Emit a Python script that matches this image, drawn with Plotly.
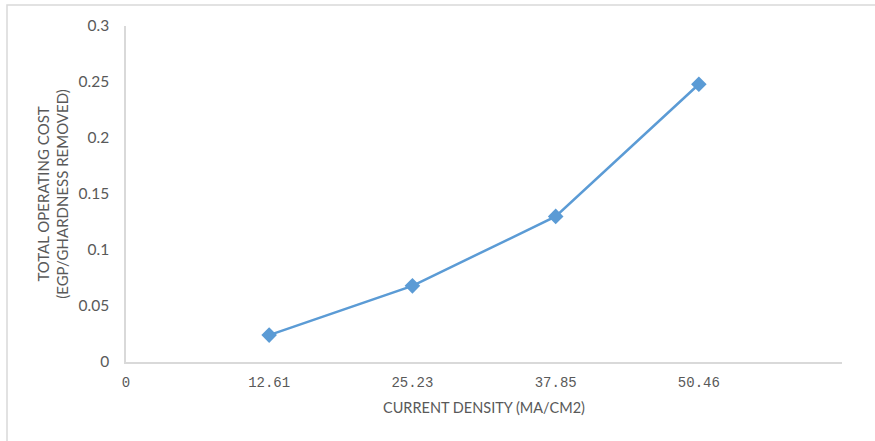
import plotly.graph_objects as go

# Operating cost versus applied current density
current_density = [12.61, 25.23, 37.85, 50.46]
operating_cost = [0.024, 0.068, 0.13, 0.248]

x_tick_values = [0, 12.61, 25.23, 37.85, 50.46]
x_tick_labels = ["0", "12.61", "25.23", "37.85", "50.46"]

W, H = 875, 441
L, R, T, B = 126, 33, 26, 79
pw, ph = W - L - R, H - T - B

line_color = "#5B9BD5"
text_color = "#595959"
axis_color = "#D9D9D9"

fig = go.Figure()
fig.add_trace(go.Scatter(
    x=current_density,
    y=operating_cost,
    mode="lines+markers",
    line=dict(color=line_color, width=2.5),
    marker=dict(symbol="diamond", size=12, color=line_color),
    showlegend=False,
    hoverinfo="x+y",
))

fig.update_layout(
    width=W, height=H,
    margin=dict(l=L, r=R, t=T, b=B),
    paper_bgcolor="white",
    plot_bgcolor="white",
    font=dict(family="Lato, Open Sans, sans-serif", color=text_color),
    xaxis=dict(
        range=[0, 63.07],
        tickvals=x_tick_values,
        ticktext=x_tick_labels,
        tickfont=dict(family="Liberation Mono, DejaVu Sans Mono, monospace", size=14, color=text_color),
        showgrid=False,
        zeroline=False,
        showline=True,
        linecolor=axis_color,
        linewidth=1.5,
        ticks="",
        ticklabelstandoff=6,
        title=dict(text="CURRENT DENSITY (MA/CM2)", font=dict(size=14.5, color=text_color), standoff=13),
    ),
    yaxis=dict(
        range=[0, 0.3],
        dtick=0.05,
        tickfont=dict(size=15.5, color=text_color),
        showgrid=False,
        zeroline=False,
        showline=True,
        linecolor=axis_color,
        linewidth=1.5,
        ticks="",
        ticklabelstandoff=12,
        title=dict(text="TOTAL OPERATING COST<br>(EGP/GHARDNESS REMOVED)",
                   font=dict(size=15, color=text_color), standoff=6),
    ),
)

# Light chart-area border
x0 = (7 - L) / pw
y1 = 1 + (T - 5) / ph
fig.add_shape(type="rect", xref="paper", yref="paper",
              x0=x0, x1=(W + 5 - L) / pw, y0=-(B + 5) / ph, y1=y1,
              line=dict(color="#D9D9D9", width=1.5), fillcolor="rgba(0,0,0,0)", layer="below")

fig.write_html("out.html")
